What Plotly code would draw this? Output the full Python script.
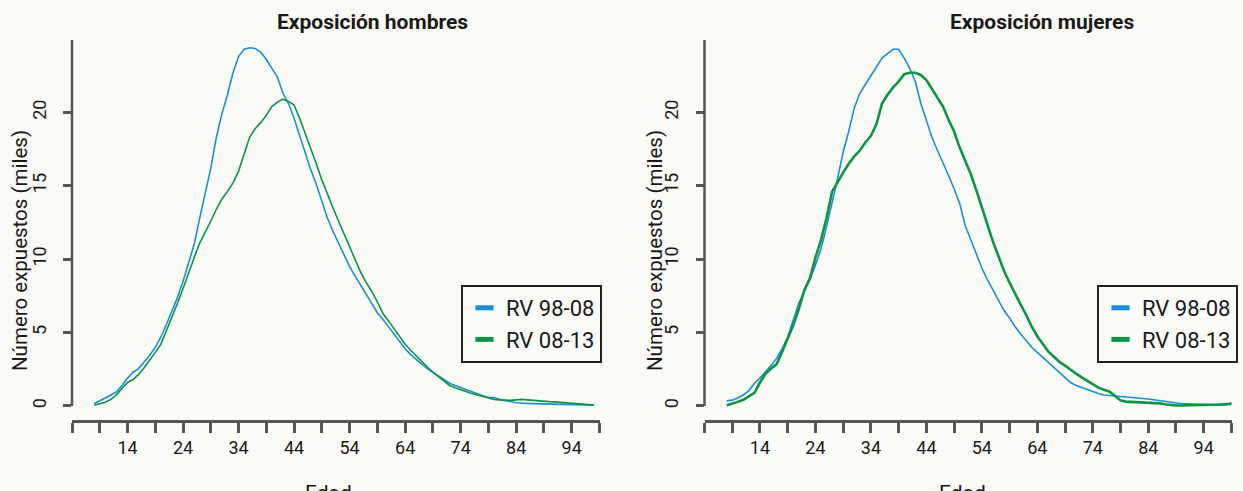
import plotly.graph_objects as go
from plotly.subplots import make_subplots

# Edad (single years of age)
edad_h = list(range(8, 99))
edad_m = list(range(8, 100))

# Exposición hombres, miles
hombres_98_08 = [
    0.15, 0.35, 0.55, 0.75, 0.95, 1.4, 1.9, 2.3, 2.55, 3.0,
    3.45, 4.0, 4.7, 5.55, 6.45, 7.4, 8.5, 9.7, 11.0, 12.8,
    14.4, 16.2, 18.3, 19.9, 21.2, 22.7, 23.8, 24.3, 24.4, 24.35,
    24.1, 23.6, 23.0, 22.4, 21.3, 20.6, 19.6, 18.4, 17.2, 16.1,
    15.1, 14.0, 12.8, 11.9, 11.1, 10.3, 9.5, 8.85, 8.2, 7.6,
    7.0, 6.35, 5.9, 5.4, 4.9, 4.4, 3.9, 3.5, 3.15, 2.85,
    2.55, 2.3, 2.05, 1.75, 1.55, 1.4, 1.25, 1.1, 0.95, 0.8,
    0.7, 0.6, 0.58, 0.45, 0.35, 0.3, 0.22, 0.18, 0.17, 0.16,
    0.15, 0.14, 0.14, 0.13, 0.12, 0.1, 0.1, 0.07, 0.05, 0.05,
    0.06,
]
hombres_08_13 = [
    0.05, 0.15, 0.25, 0.45, 0.75, 1.2, 1.6, 1.8, 2.15, 2.6,
    3.1, 3.65, 4.2, 5.1, 6.0, 7.0, 8.0, 9.1, 10.1, 11.1,
    11.8, 12.6, 13.4, 14.1, 14.6, 15.2, 16.0, 17.1, 18.3, 18.9,
    19.3, 19.8, 20.4, 20.7, 20.9, 20.75, 20.5, 19.6, 18.6, 17.6,
    16.5, 15.4, 14.4, 13.5, 12.6, 11.7, 10.8, 9.9, 9.1, 8.4,
    7.8, 7.1, 6.3, 5.8, 5.25, 4.7, 4.2, 3.8, 3.4, 3.0,
    2.65, 2.3, 2.0, 1.7, 1.4, 1.25, 1.1, 0.95, 0.85, 0.75,
    0.65, 0.55, 0.45, 0.42, 0.4, 0.38, 0.42, 0.45, 0.42, 0.38,
    0.33, 0.3, 0.3, 0.28, 0.25, 0.22, 0.18, 0.15, 0.1, 0.08,
    0.07,
]

# Exposición mujeres, miles
mujeres_98_08 = [
    0.35, 0.4, 0.55, 0.75, 1.05, 1.55, 1.9, 2.3, 2.75, 3.25,
    3.9, 4.7, 5.8, 7.0, 7.8, 8.6, 9.6, 10.7, 12.2, 13.8,
    15.5, 17.3, 18.7, 20.3, 21.3, 21.9, 22.5, 23.1, 23.7, 24.0,
    24.3, 24.3, 23.7, 23.0, 22.1, 20.6, 19.4, 18.3, 17.4, 16.6,
    15.7, 14.8, 13.8, 12.3, 11.3, 10.3, 9.4, 8.6, 7.9, 7.2,
    6.5, 6.0, 5.4, 4.9, 4.45, 4.0, 3.65, 3.3, 2.95, 2.6,
    2.25, 1.9, 1.6, 1.4, 1.25, 1.1, 0.95, 0.85, 0.75, 0.72,
    0.7, 0.65, 0.63, 0.6, 0.57, 0.53, 0.48, 0.42, 0.36, 0.28,
    0.22, 0.18, 0.15, 0.15, 0.13, 0.1, 0.08, 0.07, 0.06, 0.06,
    0.08, 0.22,
]
mujeres_08_13 = [
    0.05, 0.15, 0.28, 0.42, 0.65, 0.9, 1.6, 2.2, 2.55, 2.85,
    3.7, 4.6, 5.5, 6.6, 7.9, 8.7, 10.1, 11.3, 12.8, 14.6,
    15.3, 15.9, 16.5, 17.0, 17.4, 17.95, 18.4, 19.2, 20.6, 21.2,
    21.7, 22.1, 22.6, 22.7, 22.7, 22.55, 22.2, 21.6, 21.0, 20.4,
    19.5, 18.7, 17.6, 16.7, 15.8, 14.7, 13.5, 12.3, 11.2, 10.2,
    9.2, 8.4, 7.6, 6.9, 6.2, 5.4, 4.75, 4.2, 3.7, 3.35,
    3.0, 2.75, 2.45, 2.2, 1.95, 1.7, 1.45, 1.25, 1.1, 0.98,
    0.7, 0.38, 0.3, 0.28, 0.26, 0.25, 0.24, 0.22, 0.18, 0.12,
    0.06, 0.03, 0.03, 0.05, 0.06, 0.07, 0.07, 0.08, 0.08, 0.09,
    0.1, 0.14,
]

x_ticks = list(range(4, 100, 5))
x_labels = [str(t) if (t - 4) % 10 == 0 and 14 <= t <= 94 else "" for t in x_ticks]
y_ticks = [0, 5, 10, 15, 20]

BLUE = "#1b8fd8"
GREEN = "#0d9447"
AXIS = "#555555"
TEXT = "#1a1a1a"
BG = "#fafaf6"
FONT = "Roboto, DejaVu Sans, sans-serif"

fig = make_subplots(rows=1, cols=2, horizontal_spacing=0.05)

# Hombres
fig.add_trace(
    go.Scatter(x=edad_h, y=hombres_98_08, mode="lines",
               line={"color": BLUE, "width": 1.6}, showlegend=False),
    row=1, col=1,
)
fig.add_trace(
    go.Scatter(x=edad_h, y=hombres_08_13, mode="lines",
               line={"color": GREEN, "width": 1.6}, showlegend=False),
    row=1, col=1,
)

# Mujeres
fig.add_trace(
    go.Scatter(x=edad_m, y=mujeres_98_08, mode="lines",
               line={"color": BLUE, "width": 1.6}, showlegend=False),
    row=1, col=2,
)
fig.add_trace(
    go.Scatter(x=edad_m, y=mujeres_08_13, mode="lines",
               line={"color": GREEN, "width": 2.6}, showlegend=False),
    row=1, col=2,
)

# Legend entries (short thick bars)
for leg in ["legend", "legend2"]:
    for name, col in [("RV 98-08", BLUE), ("RV 08-13", GREEN)]:
        fig.add_trace(
            go.Scatter(
                x=[None], y=[None], mode="markers", name=name, legend=leg,
                marker={"symbol": "line-ew", "size": 13,
                        "line": {"color": col, "width": 5}},
            )
        )

x_range = [4, 99.1]
y_range = [-0.954, 24.93]

fig.update_xaxes(
    range=x_range, tickvals=x_ticks, ticktext=x_labels,
    showline=True, linecolor=AXIS, linewidth=2.5,
    ticks="outside", ticklen=10, tickwidth=2.5, tickcolor=AXIS,
    showgrid=False, zeroline=False,
    tickfont={"size": 18, "color": TEXT},
)
fig.update_yaxes(
    range=y_range, tickvals=y_ticks, tickangle=-90,
    showline=False, ticks="outside", ticklen=8, tickwidth=2.5, tickcolor=AXIS,
    showgrid=False, zeroline=False, ticklabelstandoff=10,
    tickfont={"size": 18, "color": TEXT},
)
fig.update_layout(
    xaxis={"domain": [72 / 1243, 600 / 1243]},
    xaxis2={"domain": [704.5 / 1243, 1232 / 1243]},
    yaxis={"domain": [71 / 491, 451 / 491]},
    yaxis2={"domain": [71 / 491, 451 / 491]},
)

# Y axis lines from 0 to top only
for xr, yr in [("x domain", "y"), ("x2 domain", "y2")]:
    fig.add_shape(type="line", xref=xr, yref=yr, x0=0, x1=0, y0=0, y1=y_range[1],
                  line={"color": AXIS, "width": 2.5})

annotations = [
    ("Exposición hombres", 372, 22, 21, True, 0),
    ("Exposición mujeres", 1042, 22, 21, True, 0),
    ("Número expuestos (miles)", 20, 251, 20.5, False, -90),
    ("Número expuestos (miles)", 655, 251, 20.5, False, -90),
]
for text, px, py, size, bold, ang in annotations:
    fig.add_annotation(
        text=f"<b>{text}</b>" if bold else text,
        x=px / 1243, y=1 - py / 491, xref="paper", yref="paper",
        xanchor="center", yanchor="middle",
        showarrow=False, textangle=ang,
        font={"size": size, "color": TEXT, "family": FONT},
    )
for px in [328, 962]:
    fig.add_annotation(
        text="Edad", x=px / 1243, y=1 - 479 / 491, xref="paper", yref="paper",
        xanchor="center", yanchor="top", showarrow=False,
        font={"size": 21, "color": TEXT, "family": FONT},
    )

legend_style = {
    "bordercolor": "#222222", "borderwidth": 2, "bgcolor": BG,
    "font": {"size": 22, "color": TEXT, "family": FONT},
    "xanchor": "left", "yanchor": "top", "xref": "paper", "yref": "paper",
    "itemwidth": 33, "tracegroupgap": 0,
}
fig.update_layout(
    width=1243, height=491,
    margin={"l": 0, "r": 0, "t": 0, "b": 0},
    paper_bgcolor=BG, plot_bgcolor=BG,
    font={"family": FONT, "color": TEXT},
    legend={**legend_style, "x": 461 / 1243, "y": 1 - 285 / 491},
    legend2={**legend_style, "x": 1097 / 1243, "y": 1 - 285 / 491},
)

fig.write_html(
    "out.html",
    config={"displayModeBar": False},
    post_script="document.body.style.margin='0';",
)
